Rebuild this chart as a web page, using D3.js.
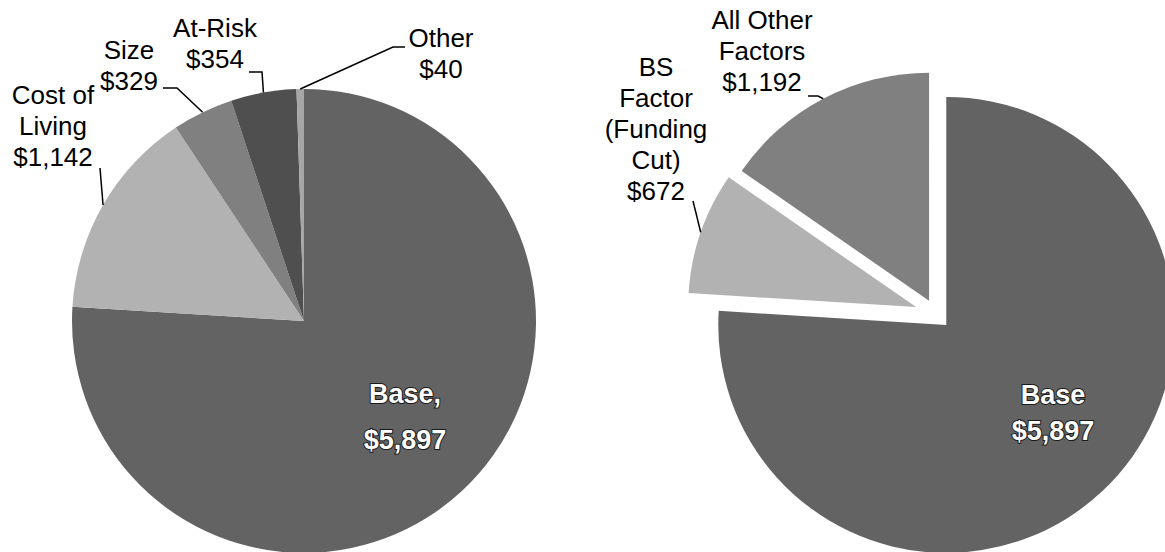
<!DOCTYPE html>
<html>
<head>
<meta charset="utf-8">
<script src="https://cdn.jsdelivr.net/npm/d3@7"></script>
<style>
  body { margin: 0; background: #fff; }
  svg { display: block; font-family: "Liberation Sans", Arial, sans-serif; }
</style>
</head>
<body>
<div id="chart"></div>
<script>
// left pie: full breakdown
const leftCats = ["Base", "Cost of Living", "Size", "At-Risk", "Other"]
const leftValues = [5897, 1142, 329, 354, 40]
const leftLabelLines = [["Base,"], ["Cost of", "Living"], ["Size"], ["At-Risk"], ["Other"]]

// right pie: base vs. funding cut vs. everything else
const rightCats = ["Base", "BS Factor (Funding Cut)", "All Other Factors"]
const rightValues = [5897, 672, 1192]
const rightLabelLines = [["Base"], ["BS", "Factor", "(Funding", "Cut)"], ["All Other", "Factors"]]

const fmt = d3.format("$,")
const W = 1165, H = 552
const lineH = 31

const svg = d3.select("#chart").append("svg")
  .attr("width", W)
  .attr("height", H)

function drawPie(cfg) {
  const pie = d3.pie().sort(null).value(d => d)
  const arcs = pie(cfg.values)
  const arc = d3.arc().innerRadius(0).outerRadius(cfg.r)
  const rim = d3.arc().innerRadius(cfg.r).outerRadius(cfg.r)

  const g = svg.append("g")
    .attr("transform", "translate(" + cfg.cx + "," + cfg.cy + ")")

  arcs.forEach(function (a, i) {
    const mid = (a.startAngle + a.endAngle) / 2
    const ex = cfg.explode[i] || 0
    const dx = Math.sin(mid) * ex
    const dy = -Math.cos(mid) * ex
    const sg = g.append("g").attr("transform", "translate(" + dx + "," + dy + ")")

    sg.append("path")
      .attr("d", arc(a))
      .attr("fill", cfg.colors[i])

    const lines = cfg.lines[i].concat([fmt(cfg.values[i])])
    const lay = cfg.layout[i]
    if (i === 0) {
      // base label sits inside the slice, white with a dark edge
      const t = g.append("text")
        .attr("text-anchor", "middle")
        .attr("font-size", 27)
        .attr("font-weight", "bold")
        .attr("fill", "#fff")
        .attr("stroke", "#1a1a1a")
        .attr("stroke-width", 2)
        .attr("paint-order", "stroke")
      lines.forEach(function (s, k) {
        t.append("tspan")
          .attr("x", lay.x - cfg.cx)
          .attr("y", lay.y - cfg.cy + k * lay.sp)
          .text(s)
      })
    } else {
      const t = g.append("text")
        .attr("text-anchor", "middle")
        .attr("font-size", 26)
        .attr("fill", "#000")
      lines.forEach(function (s, k) {
        t.append("tspan")
          .attr("x", lay.x - cfg.cx)
          .attr("y", lay.y - cfg.cy + k * lineH)
          .text(s)
      })
      // leader line to the rim at the slice middle
      const end = rim.centroid(a)
      const pts = lay.leader.map(p => [p[0] - cfg.cx, p[1] - cfg.cy])
      pts.push([end[0] + dx, end[1] + dy])
      g.append("path")
        .attr("d", d3.line()(pts))
        .attr("fill", "none")
        .attr("stroke", "#000")
        .attr("stroke-width", 1.5)
    }
  })
}

drawPie({
  values: leftValues,
  lines: leftLabelLines,
  cx: 304, cy: 321, r: 232,
  colors: ["#636363", "#b2b2b2", "#808080", "#4f4f4f", "#a6a6a6"],
  explode: [0, 0, 0, 0, 0],
  layout: [
    { x: 405, y: 403, sp: 46 },
    { x: 53, y: 104, leader: [[100, 168]] },
    { x: 129, y: 59, leader: [[163, 88], [177, 88]] },
    { x: 215, y: 37, leader: [[249, 72], [262, 72]] },
    { x: 441, y: 47, leader: [[405, 47], [393, 47]] }
  ]
})

drawPie({
  values: rightValues,
  lines: rightLabelLines,
  cx: 936, cy: 314, r: 228,
  colors: ["#636363", "#b2b2b2", "#808080"],
  explode: [15, 21, 15],
  layout: [
    { x: 1053, y: 404, sp: 36 },
    { x: 656, y: 76, leader: [[693, 201]] },
    { x: 762, y: 29, leader: [[808, 96], [818, 96]] }
  ]
})
</script>
</body>
</html>
